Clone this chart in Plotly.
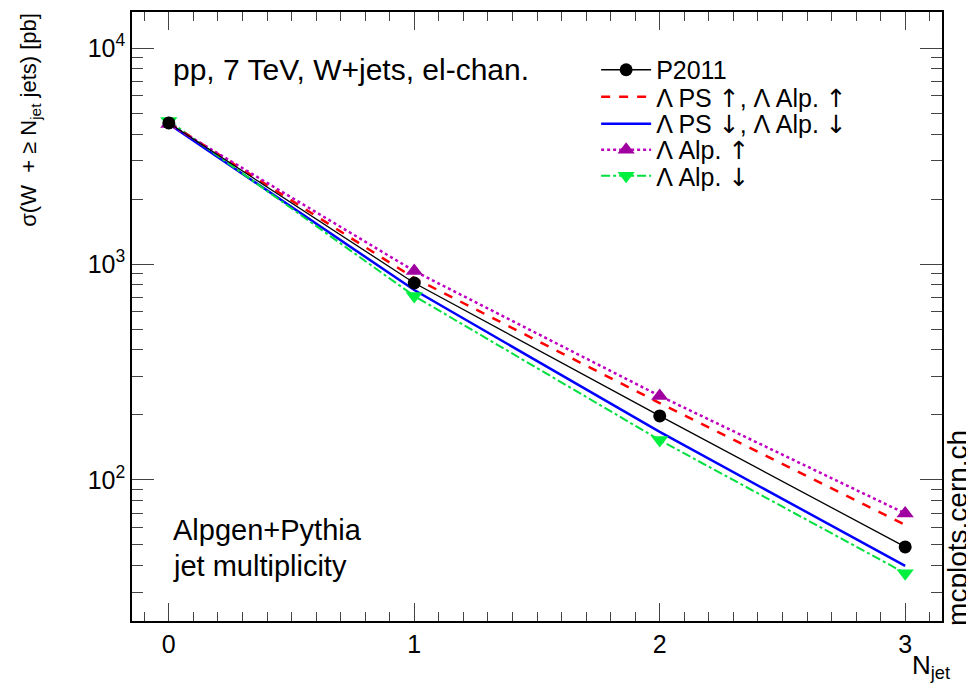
import plotly.graph_objects as go

njet = [0, 1, 2, 3]
p2011 = [4500, 817, 198, 49]
ps_up = [4500, 861, 227, 62]
ps_down = [4450, 758, 167, 40]
alp_up = [4450, 928, 245, 70]
alp_down = [4600, 711, 153, 37]

AR_UP = '<span style="font-family:DejaVu Sans">↑</span>'
AR_DN = '<span style="font-family:DejaVu Sans">↓</span>'
names = ["P2011",
         f"Λ PS {AR_UP}, Λ Alp. {AR_UP}",
         f"Λ PS {AR_DN}, Λ Alp. {AR_DN}",
         f"Λ Alp. {AR_UP}",
         f"Λ Alp. {AR_DN}"]

FONT = "Liberation Sans, Arial, Helvetica, sans-serif"

fig = go.Figure()
fig.add_trace(go.Scatter(x=njet, y=ps_down, name=names[2], mode="lines", legend="legend3",
                         line=dict(color="#0000ff", width=2.5)))
fig.add_trace(go.Scatter(x=njet, y=alp_down, name=names[4], mode="lines+markers", legend="legend5",
                         line=dict(color="#00e040", width=2, dash="dashdot"),
                         marker=dict(symbol="triangle-down", size=15, color="#00f040")))
fig.add_trace(go.Scatter(x=njet, y=ps_up, name=names[1], mode="lines", legend="legend2",
                         line=dict(color="#ff0000", width=2.5, dash="dash")))
fig.add_trace(go.Scatter(x=njet, y=alp_up, name=names[3], mode="lines+markers", legend="legend4",
                         line=dict(color="#c000c0", width=2.5, dash="dot"),
                         marker=dict(symbol="triangle-up", size=15, color="#a000a0")))
fig.add_trace(go.Scatter(x=njet, y=p2011, name=names[0], mode="lines+markers", legend="legend",
                         line=dict(color="black", width=1.3),
                         marker=dict(symbol="circle", size=13, color="black")))

leg_y = [0.9048, 0.8604, 0.8161, 0.7734, 0.7307]
def leg(yv):
    return dict(x=0.573, y=yv, xanchor="left", yanchor="middle", font=dict(size=25),
                bgcolor="rgba(0,0,0,0)", itemwidth=50, borderwidth=0)

fig.update_layout(
    width=974, height=685,
    margin=dict(l=124, r=40, t=4, b=72),
    paper_bgcolor="white", plot_bgcolor="white",
    font=dict(family=FONT, size=24, color="black"),
    showlegend=True,
    legend=leg(leg_y[0]), legend2=leg(leg_y[1]), legend3=leg(leg_y[2]),
    legend4=leg(leg_y[3]), legend5=leg(leg_y[4]),
)

fig.update_xaxes(range=[-0.15, 3.15], tickvals=[0, 1, 2, 3], ticks="inside", ticklen=18,
                 showline=True, linecolor="black", linewidth=1.5, mirror="allticks",
                 showgrid=False, zeroline=False, tickfont=dict(size=25), automargin=False,
                 minor=dict(ticks="inside", ticklen=9, dtick=0.1, tick0=0, showgrid=False))
fig.update_yaxes(type="log", range=[1.347, 4.167], tickvals=[100, 1000, 10000],
                 ticktext=["10<sup>2</sup>", "10<sup>3</sup>", "10<sup>4</sup>"],
                 ticks="inside", ticklen=22, showline=True, linecolor="black", linewidth=1.5,
                 mirror="allticks", showgrid=False, zeroline=False, tickfont=dict(size=25),
                 automargin=False,
                 minor=dict(ticks="inside", ticklen=11, dtick="D1", showgrid=False))

fig.add_annotation(xref="paper", yref="paper", x=0.048, y=0.9048, xanchor="left", yanchor="middle",
                   text="pp, 7 TeV, W+jets, el-chan.", showarrow=False, font=dict(size=30))
fig.add_annotation(xref="paper", yref="paper", x=0.048, y=0.1494, xanchor="left", yanchor="middle",
                   text="Alpgen+Pythia", showarrow=False, font=dict(size=29))
fig.add_annotation(xref="paper", yref="paper", x=0.048, y=0.0903, xanchor="left", yanchor="middle",
                   text="jet multiplicity", showarrow=False, font=dict(size=29))
fig.add_annotation(xref="paper", yref="paper", x=0.986, y=-0.074, xanchor="center", yanchor="middle",
                   text="N<sub>jet</sub>", showarrow=False, font=dict(size=26))
fig.add_annotation(xref="paper", yref="paper", x=-0.126, y=0.823, xanchor="center", yanchor="middle",
                   text="σ(W  + ≥ N<sub>jet</sub> jets) [pb]", textangle=-90, showarrow=False,
                   font=dict(size=22))
fig.add_annotation(xref="paper", yref="paper", x=1.019, y=0.1535, xanchor="center", yanchor="middle",
                   text="mcplots.cern.ch", textangle=-90, showarrow=False, font=dict(size=28))

fig.write_html("out.html")
